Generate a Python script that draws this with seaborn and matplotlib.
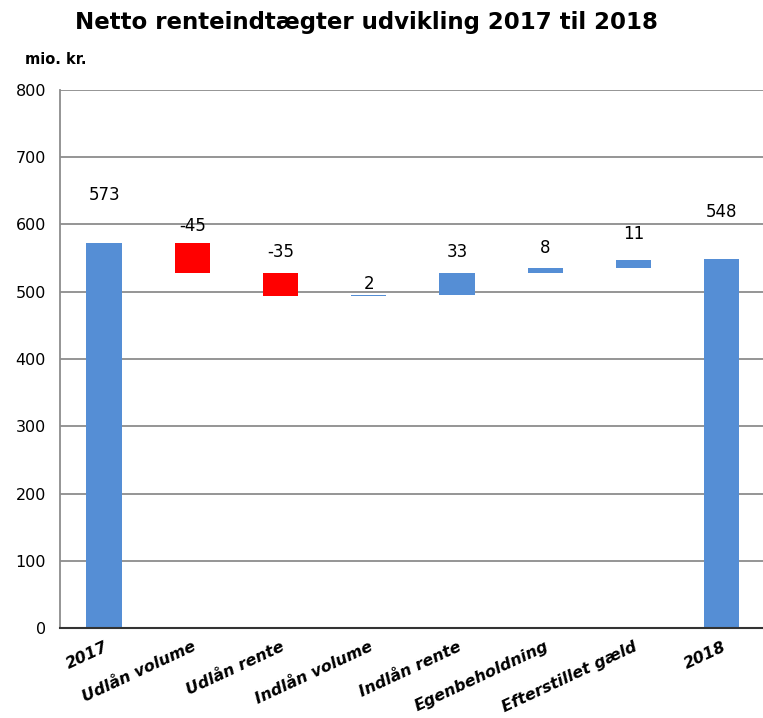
import numpy as np
import pandas as pd
import matplotlib
matplotlib.use("Agg")
import matplotlib.pyplot as plt
import seaborn as sns

categories = ["2017", "Udlån volume", "Udlån rente", "Indlån volume",
              "Indlån rente", "Egenbeholdning", "Efterstillet gæld", "2018"]
start_total = 573
changes = [-45, -35, 2, 33, 8, 11]
end_total = 548

# waterfall: bottoms and heights from the running total
running = start_total + np.cumsum([0] + changes)
bottoms = [0]
heights = [start_total]
for prev, ch in zip(running[:-1], changes):
    bottoms.append(min(prev, prev + ch))
    heights.append(abs(ch))
bottoms.append(0)
heights.append(end_total)
labels = [start_total] + changes + [end_total]

blue = "#558ed5"
red = "#ff0000"
colors = [blue] + [red if c < 0 else blue for c in changes] + [blue]
label_pad = [34, 12, 15, 8, 15, 14, 19, 34]  # points above bar top

df = pd.DataFrame({"kategori": categories, "hoejde": heights, "bund": bottoms})

sns.set_style("white")
plt.rcParams["font.family"] = ["DejaVu Sans"]
plt.rcParams["text.color"] = "black"
plt.rcParams["xtick.color"] = "black"
plt.rcParams["ytick.color"] = "black"

fig = plt.figure(figsize=(7.63, 7.18), dpi=100)
ax = fig.add_axes([0.0786, 0.1253, 0.925, 0.7494])

sns.barplot(data=df, x="kategori", y="hoejde", color=blue,
            bottom=list(df["bund"]), width=0.4, saturation=1,
            linewidth=0, ax=ax)
for patch, c in zip(ax.patches, colors):
    patch.set_facecolor(c)

ax.set_ylim(0, 800)
ax.set_xlim(-0.5, 7.5)
ax.set_yticks(range(0, 801, 100))
ax.yaxis.grid(True, color="#8c8c8c", linewidth=1.3)
ax.set_axisbelow(True)
ax.set_xlabel("")
ax.set_ylabel("")

for s in ["top", "right"]:
    ax.spines[s].set_visible(False)
ax.spines["left"].set_color("#8c8c8c")
ax.spines["left"].set_linewidth(1.3)
ax.spines["bottom"].set_color("#333333")
ax.spines["bottom"].set_linewidth(1.5)

ax.tick_params(axis="y", length=6, color="#8c8c8c", labelsize=11.5, pad=4)
ax.set_xticks(range(len(categories)))
ax.set_xticklabels(categories, rotation=25, ha="right", va="top",
                   rotation_mode="anchor", fontweight="bold",
                   fontstyle="italic", fontsize=11.5)
ax.tick_params(axis="x", length=0, pad=8)
ax.set_xticks(np.arange(-0.5, 7.6, 1), minor=True)
ax.tick_params(axis="x", which="minor", length=6, color="#333333", width=1.3)

for i, (b, h, lab) in enumerate(zip(bottoms, heights, labels)):
    ax.annotate(f"{lab}", xy=(i, b + h), xytext=(0, label_pad[i]),
                textcoords="offset points", ha="center", va="center",
                fontsize=12, color="black")

fig.text(0.48, 0.969, "Netto renteindtægter udvikling 2017 til 2018",
         ha="center", va="center", fontsize=16.5, fontweight="bold")
fig.text(0.033, 0.917, "mio. kr.", ha="left", va="center",
         fontsize=10.5, fontweight="bold")

fig.savefig("out.png", dpi=100)
